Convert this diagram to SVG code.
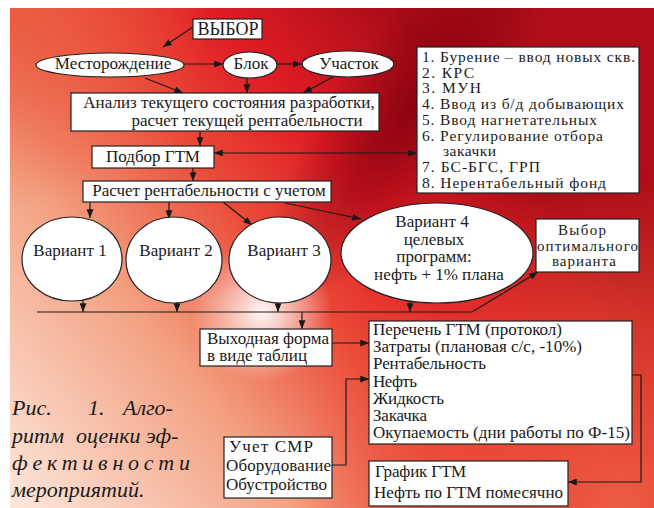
<svg xmlns="http://www.w3.org/2000/svg" width="654" height="508" viewBox="0 0 654 508">
<defs>
<linearGradient id="bg" gradientUnits="userSpaceOnUse" x1="10" y1="490" x2="560" y2="40">
<stop offset="0" stop-color="#fce4d8"/>
<stop offset="0.3" stop-color="#f3a080"/>
<stop offset="0.5" stop-color="#ea4a38"/>
<stop offset="0.65" stop-color="#e01c24"/>
<stop offset="0.85" stop-color="#a80c16"/>
<stop offset="1" stop-color="#b00e18"/>
</linearGradient>
<radialGradient id="br" gradientUnits="userSpaceOnUse" cx="620" cy="508" r="330">
<stop offset="0" stop-color="#ec5c42" stop-opacity="1"/>
<stop offset="0.6" stop-color="#ea4a36" stop-opacity="0.6"/>
<stop offset="1" stop-color="#ea4a36" stop-opacity="0"/>
</radialGradient>
<radialGradient id="glare" gradientUnits="userSpaceOnUse" cx="262" cy="312" r="70">
<stop offset="0" stop-color="#ffffff" stop-opacity="0.95"/>
<stop offset="1" stop-color="#ffffff" stop-opacity="0"/>
</radialGradient>
<radialGradient id="tl" gradientUnits="userSpaceOnUse" cx="10" cy="8" r="200">
<stop offset="0" stop-color="#ea5a3e" stop-opacity="0.9"/>
<stop offset="1" stop-color="#ea5a3e" stop-opacity="0"/>
</radialGradient>
<radialGradient id="dark" gradientUnits="userSpaceOnUse" cx="0" cy="0" r="1" gradientTransform="translate(410,110) rotate(-55) scale(230,75)">
<stop offset="0" stop-color="#85000f" stop-opacity="0.85"/>
<stop offset="1" stop-color="#85000f" stop-opacity="0"/>
</radialGradient>
<marker id="ah" viewBox="0 0 10 8" refX="10" refY="4" markerWidth="9" markerHeight="7" markerUnits="userSpaceOnUse" orient="auto-start-reverse">
<path d="M0,0 L10,4 L0,8 z" fill="#1a1a1a"/>
</marker>
<style>
.box{fill:#fff;stroke:#222;stroke-width:1.2}
.t{font-family:"Liberation Serif","Times New Roman",serif;font-size:17px;fill:#1a1a1a}
.m{text-anchor:middle}
.l{font-size:15.5px}
.o{font-size:15px}
.c{font-family:"Liberation Serif","Times New Roman",serif;font-style:italic;font-size:22px;fill:#1a1a1a}
.ln{fill:none;stroke:#1a1a1a;stroke-width:1.2}
</style>
</defs>
<rect x="0" y="0" width="654" height="508" fill="#fff"/>
<rect x="10" y="8" width="644" height="500" fill="url(#bg)"/>
<rect x="10" y="8" width="644" height="500" fill="url(#tl)"/>
<rect x="10" y="8" width="644" height="500" fill="url(#br)"/>
<rect x="10" y="8" width="644" height="500" fill="url(#dark)"/>
<rect x="10" y="8" width="644" height="500" fill="url(#glare)"/>

<g id="connectors">
<path class="ln" d="M193,27 L163,47" marker-end="url(#ah)"/>
<path class="ln" d="M184,64 L223,64" marker-end="url(#ah)"/>
<path class="ln" d="M277,64 L302,64" marker-end="url(#ah)"/>
<path class="ln" d="M145,78 L183,93" marker-end="url(#ah)"/>
<path class="ln" d="M247,78 L247,93" marker-end="url(#ah)"/>
<path class="ln" d="M333,77 L303,93" marker-end="url(#ah)"/>
<path class="ln" d="M200,131 L200,146" marker-end="url(#ah)"/>
<path class="ln" d="M417,153 L214,153" marker-start="url(#ah)" marker-end="url(#ah)"/>
<path class="ln" d="M193,168 L193,181" marker-end="url(#ah)"/>
<path class="ln" d="M90,202 L90,218" marker-end="url(#ah)"/>
<path class="ln" d="M169,202 L169,219" marker-end="url(#ah)"/>
<path class="ln" d="M223,202 L252,225" marker-end="url(#ah)"/>
<path class="ln" d="M285,203 L361,219" marker-end="url(#ah)"/>
<path class="ln" d="M83,300 L83,312" marker-end="url(#ah)"/>
<path class="ln" d="M177,302 L177,312" marker-end="url(#ah)"/>
<path class="ln" d="M278,302 L278,312" marker-end="url(#ah)"/>
<path class="ln" d="M410,302 L410,312" marker-end="url(#ah)"/>
<path class="ln" d="M37,312 L472,312 L538,272" marker-end="url(#ah)"/>
<path class="ln" d="M302,312 L302,329" marker-end="url(#ah)"/>
<path class="ln" d="M332,343 L369,343" marker-end="url(#ah)"/>
<path class="ln" d="M332,465 L346,465 L346,379 L369,379" marker-end="url(#ah)"/>
<path class="ln" d="M632,375 L641,375 L641,482 L568,482" marker-end="url(#ah)"/>
</g>

<g id="vybor"><rect class="box" x="193" y="19" width="69" height="20"/><text class="t m" x="228" y="35" style="font-size:18px">ВЫБОР</text></g>
<g id="mestorozhdenie"><ellipse class="box" cx="110" cy="65" rx="74" ry="12"/><text class="t m" x="113" y="69">Месторождение</text></g>
<g id="blok"><ellipse class="box" cx="250" cy="65" rx="27" ry="13"/><text class="t m" x="251" y="69">Блок</text></g>
<g id="uchastok"><ellipse class="box" cx="348" cy="64" rx="46" ry="13"/><text class="t m" x="349" y="69">Участок</text></g>
<g id="analiz"><rect class="box" x="71" y="93" width="308" height="38"/><text class="t m" x="229" y="108">Анализ текущего состояния разработки,</text><text class="t m" x="247" y="126">расчет текущей рентабельности</text></g>
<g id="podbor"><rect class="box" x="92" y="146" width="122" height="22"/><text class="t m" x="153" y="162">Подбор ГТМ</text></g>
<g id="spisok"><rect class="box" x="417" y="47" width="222" height="146"/>
<text class="t l" x="422" y="62" textLength="213" lengthAdjust="spacing">1. Бурение – ввод новых скв.</text>
<text class="t l" x="422" y="77.7" textLength="52" lengthAdjust="spacing">2. КРС</text>
<text class="t l" x="422" y="93.4" textLength="59" lengthAdjust="spacing">3. МУН</text>
<text class="t l" x="422" y="109.1" textLength="202" lengthAdjust="spacing">4. Ввод из б/д добывающих</text>
<text class="t l" x="422" y="124.8" textLength="175" lengthAdjust="spacing">5. Ввод нагнетательных</text>
<text class="t l" x="422" y="140.5" textLength="181" lengthAdjust="spacing">6. Регулирование отбора</text>
<text class="t l" x="443" y="156.2" textLength="53" lengthAdjust="spacing">закачки</text>
<text class="t l" x="422" y="171.9" textLength="118" lengthAdjust="spacing">7. БС-БГС, ГРП</text>
<text class="t l" x="422" y="187.6" textLength="184" lengthAdjust="spacing">8. Нерентабельный фонд</text>
</g>
<g id="raschet"><rect class="box" x="83" y="181" width="248" height="21"/><text class="t m" x="209" y="196">Расчет рентабельности с учетом</text></g>
<g id="variant1"><ellipse class="box" cx="72" cy="259" rx="50" ry="42"/><text class="t m" x="70" y="256">Вариант 1</text></g>
<g id="variant2"><ellipse class="box" cx="174" cy="260" rx="48" ry="43"/><text class="t m" x="176" y="256">Вариант 2</text></g>
<g id="variant3"><ellipse class="box" cx="280" cy="260" rx="51" ry="43"/><text class="t m" x="284" y="256">Вариант 3</text></g>
<g id="variant4"><ellipse class="box" cx="437" cy="253" rx="96" ry="50"/>
<text class="t m" x="432" y="227">Вариант 4</text>
<text class="t m" x="434" y="244.5">целевых</text>
<text class="t m" x="434" y="262">программ:</text>
<text class="t m" x="439" y="279.5">нефть + 1% плана</text>
</g>
<g id="vybor-opt"><rect class="box" x="536" y="219" width="103" height="53"/>
<text class="t o m" x="582" y="235" textLength="48" lengthAdjust="spacing">Выбор</text>
<text class="t o m" x="587.5" y="250.5" textLength="101" lengthAdjust="spacing">оптимального</text>
<text class="t o m" x="584" y="266" textLength="64" lengthAdjust="spacing">варианта</text>
</g>
<g id="vyhodnaya"><rect class="box" x="200" y="329" width="132" height="37"/>
<text class="t" x="207" y="343.5" textLength="122" lengthAdjust="spacing">Выходная форма</text>
<text class="t" x="207" y="361" textLength="100" lengthAdjust="spacing">в виде таблиц</text>
</g>
<g id="perechen"><rect class="box" x="369" y="321" width="263" height="123"/>
<text class="t" x="373" y="335" textLength="189" lengthAdjust="spacing">Перечень ГТМ (протокол)</text>
<text class="t" x="373" y="352.2" textLength="209" lengthAdjust="spacing">Затраты (плановая с/с, -10%)</text>
<text class="t" x="373" y="369.4" textLength="113" lengthAdjust="spacing">Рентабельность</text>
<text class="t" x="373" y="386.6" textLength="44" lengthAdjust="spacing">Нефть</text>
<text class="t" x="373" y="403.8" textLength="71" lengthAdjust="spacing">Жидкость</text>
<text class="t" x="373" y="421" textLength="54" lengthAdjust="spacing">Закачка</text>
<text class="t" x="373" y="438.2" textLength="257" lengthAdjust="spacing">Окупаемость (дни работы по Ф-15)</text>
</g>
<g id="uchet"><rect class="box" x="224" y="437" width="108" height="61"/>
<text class="t" x="229" y="452" textLength="84" lengthAdjust="spacing">Учет СМР</text>
<text class="t" x="226" y="471" textLength="105" lengthAdjust="spacing">Оборудование</text>
<text class="t" x="226" y="490" textLength="101" lengthAdjust="spacing">Обустройство</text>
</g>
<g id="grafik"><rect class="box" x="369" y="461" width="199" height="45"/>
<text class="t" x="375" y="477" textLength="91" lengthAdjust="spacing">График ГТМ</text>
<text class="t" x="374" y="498" textLength="189" lengthAdjust="spacing">Нефть по ГТМ помесячно</text>
</g>
<g id="caption">
<text class="c" y="415"><tspan x="12">Рис.</tspan><tspan x="88">1.</tspan><tspan x="123">Алго-</tspan></text>
<text class="c" y="443"><tspan x="12">ритм</tspan><tspan x="76">оценки</tspan><tspan x="146">эф-</tspan></text>
<text class="c" x="12" y="470" textLength="178" lengthAdjust="spacing">фективности</text>
<text class="c" x="12" y="497">мероприятий.</text>
</g>
</svg>
